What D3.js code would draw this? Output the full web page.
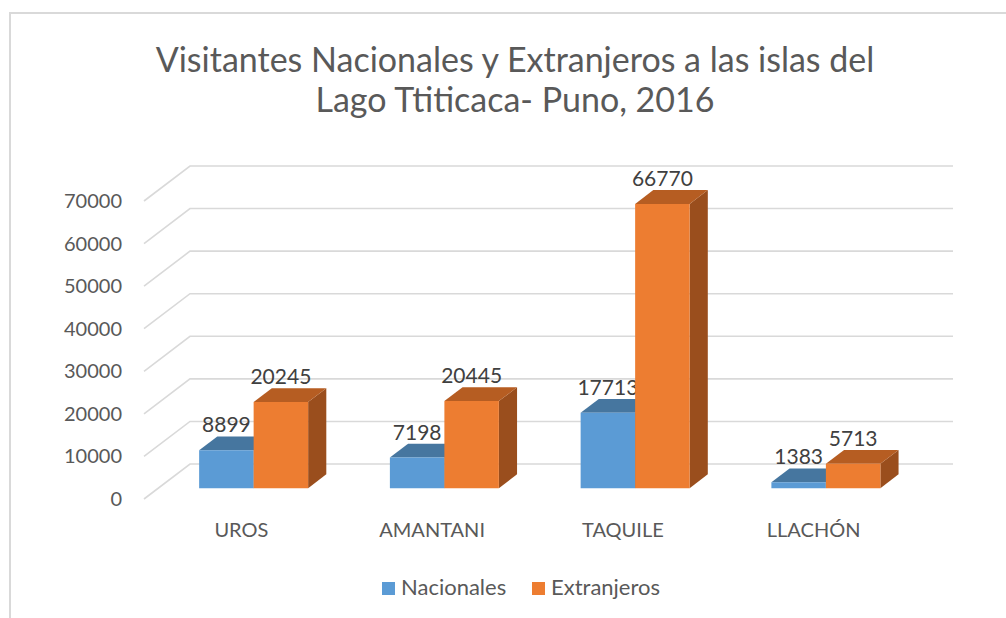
<!DOCTYPE html>
<html>
<head>
<meta charset="utf-8">
<script src="https://cdn.jsdelivr.net/npm/d3@7"></script>
<style>
  body { margin: 0; background: #fff; }
  text { font-family: Lato, "Open Sans", sans-serif; }
</style>
</head>
<body>
<svg id="chart" width="1006" height="618"></svg>
<script>
const categories = ["UROS", "AMANTANI", "TAQUILE", "LLACHÓN"];
const series = ["Nacionales", "Extranjeros"];
const nacionales = [8899, 7198, 17713, 1383];
const extranjeros = [20245, 20445, 66770, 5713];
const yTicks = [0, 10000, 20000, 30000, 40000, 50000, 60000, 70000];
const titleLines = ["Visitantes Nacionales y Extranjeros a las islas del", "Lago Ttiticaca- Puno, 2016"];

const colors = {
    Nacionales: { front: "#5B9BD5", top: "#46769F", side: "#3E6A94" },
    Extranjeros: { front: "#ED7D31", top: "#B65D22", side: "#9A4E1D" }
};

const svg = d3.select("#chart");

// frame
svg.append("rect")
    .attr("x", 10).attr("y", 13)
    .attr("width", 1010).attr("height", 620)
    .attr("fill", "#fff")
    .attr("stroke", "#d9d9d9")
    .attr("stroke-width", 2);

// title
svg.append("g").selectAll("text")
    .data(titleLines)
    .join("text")
    .attr("x", 515)
    .attr("y", (d, i) => 72 + i * 40)
    .attr("text-anchor", "middle")
    .attr("font-size", 34)
    .attr("fill", "#595959")
    .text(d => d);

// oblique 3d: depth 0 = front of floor, 1 = back wall
const depthX = 46, depthY = -35;
const barFront = 0.31, barBack = 0.705;

const y = d3.scaleLinear().domain([0, 70000]).range([499, 201]);
const x = d3.scaleBand().domain(categories).range([144, 907])
    .paddingInner(0.4286).paddingOuter(0.2143);
const xs = d3.scaleBand().domain(series).range([0, x.bandwidth()]);

function proj(px, v, d) {
    return [px + d * depthX, y(v) + d * depthY];
}

// gridlines: left wall slant + back wall
const grid = svg.append("g")
    .attr("stroke", "#d9d9d9")
    .attr("stroke-width", 1.6)
    .attr("fill", "none");
yTicks.forEach(t => {
    let a = proj(144, t, 0), b = proj(144, t, 1), c = proj(907, t, 1);
    grid.append("polyline")
        .attr("points", [a, b, c].map(p => p.join(",")).join(" "));
});

// y labels
svg.append("g").selectAll("text")
    .data(yTicks)
    .join("text")
    .attr("x", 122)
    .attr("y", d => y(d))
    .attr("dy", "0.35em")
    .attr("text-anchor", "end")
    .attr("font-size", 20)
    .attr("fill", "#595959")
    .text(d => d);

// bars
const rows = [];
categories.forEach((c, i) => {
    rows.push({ cat: c, s: "Nacionales", v: nacionales[i] });
    rows.push({ cat: c, s: "Extranjeros", v: extranjeros[i] });
});

const bars = svg.append("g");
rows.forEach(r => {
    let x0 = x(r.cat) + xs(r.s), x1 = x0 + xs.bandwidth();
    let col = colors[r.s];
    let fbl = proj(x0, 0, barFront), fbr = proj(x1, 0, barFront);
    let ftl = proj(x0, r.v, barFront), ftr = proj(x1, r.v, barFront);
    let btl = proj(x0, r.v, barBack), btr = proj(x1, r.v, barBack);
    let bbr = proj(x1, 0, barBack);
    let g = bars.append("g");
    g.append("polygon")
        .attr("points", [fbr, ftr, btr, bbr].map(p => p.join(",")).join(" "))
        .attr("fill", col.side);
    g.append("polygon")
        .attr("points", [ftl, ftr, btr, btl].map(p => p.join(",")).join(" "))
        .attr("fill", col.top);
    g.append("polygon")
        .attr("points", [fbl, fbr, ftr, ftl].map(p => p.join(",")).join(" "))
        .attr("fill", col.front);
    g.append("text")
        .attr("x", (x0 + x1) / 2 + barFront * depthX)
        .attr("y", btl[1] - 4)
        .attr("text-anchor", "middle")
        .attr("font-size", 21)
        .attr("fill", "#404040")
        .text(r.v);
});

// category labels
svg.append("g").selectAll("text")
    .data(categories)
    .join("text")
    .attr("x", d => x(d) + x.bandwidth() / 2 + 2)
    .attr("y", 537)
    .attr("text-anchor", "middle")
    .attr("font-size", 20)
    .attr("fill", "#595959")
    .text(d => d);

// legend
const legendX = [382, 532];
const legend = svg.append("g").selectAll("g")
    .data(series)
    .join("g")
    .attr("transform", (d, i) => `translate(${legendX[i]},582)`);
legend.append("rect")
    .attr("width", 13).attr("height", 13)
    .attr("fill", d => colors[d].front);
legend.append("text")
    .attr("x", 19)
    .attr("y", 13)
    .attr("font-size", 22)
    .attr("fill", "#595959")
    .text(d => d);
</script>
</body>
</html>
